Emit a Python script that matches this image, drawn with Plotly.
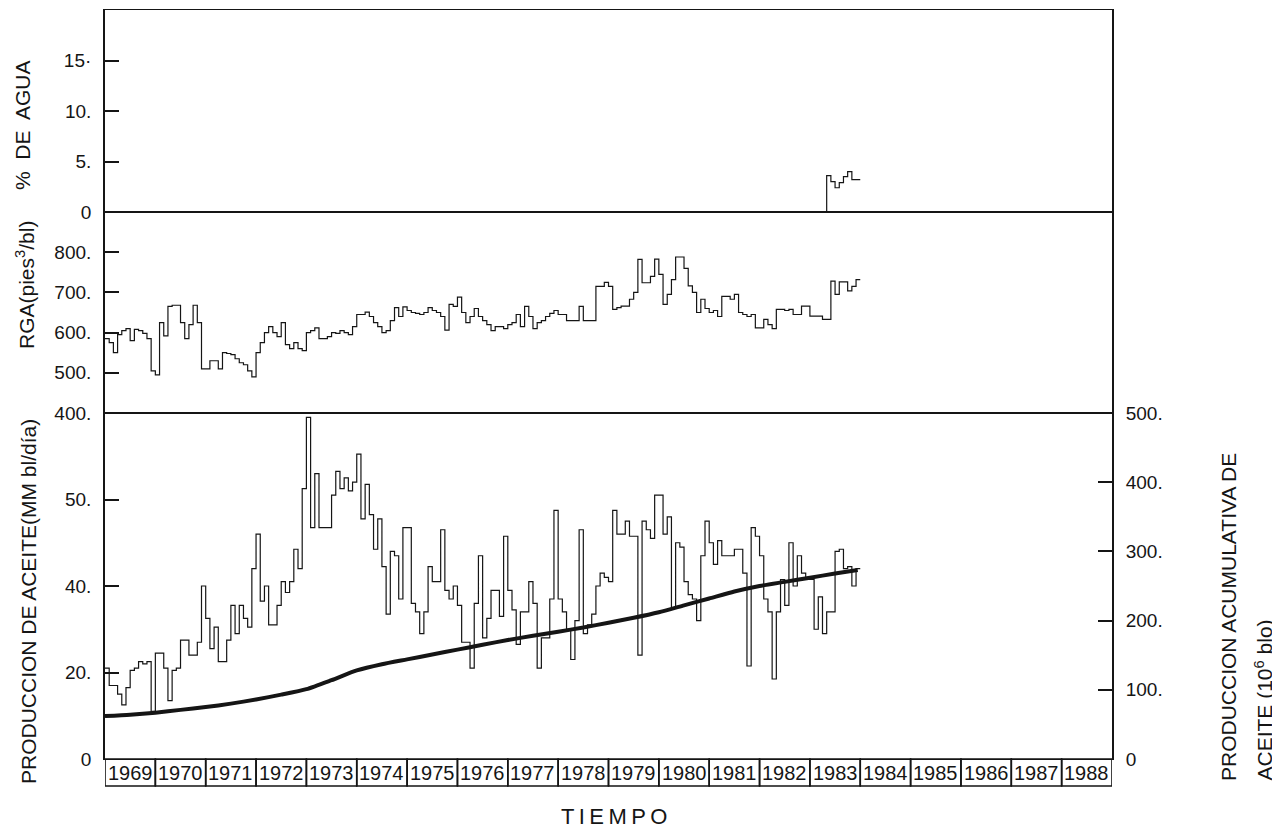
import plotly.graph_objects as go

"""
Historial de produccion: % agua, RGA, gasto de aceite y acumulada.
Datos mensuales ene-1969 .. dic-1983, leidos de la grafica.
"""

start_year = 1969
years = list(range(1969, 1989))

# % de agua, empieza en abr-1983
water_start = 1983 + 3 / 12
water_pct = [0, 3.6, 3.0, 2.4, 2.9, 3.5, 4.0, 3.2, 3.2]

# RGA (pies3/bl), mensual
rga = [
    585, 575, 550, 595, 605, 610, 580, 608, 605, 598, 585, 505,
    495, 625, 592, 665, 668, 668, 625, 585, 620, 668, 625, 510,
    510, 530, 530, 510, 550, 548, 545, 535, 525, 520, 505, 490,
    550, 575, 600, 615, 600, 590, 625, 570, 560, 575, 560, 555,
    600, 605, 612, 585, 585, 590, 600, 598, 605, 600, 595, 615,
    645, 645, 651, 640, 625, 615, 600, 605, 630, 662, 640, 664,
    655, 650, 648, 645, 650, 662, 655, 650, 640, 606, 670, 665,
    688, 650, 625, 640, 660, 640, 630, 620, 605, 615, 615, 610,
    620, 625, 645, 615, 665, 640, 610, 625, 630, 640, 648, 655,
    645, 645, 630, 630, 630, 665, 630, 630, 630, 715, 715, 725,
    715, 658, 662, 666, 666, 683, 700, 782, 724, 724, 740, 783,
    745, 670, 695, 732, 788, 788, 760, 716, 700, 650, 683, 660,
    650, 655, 640, 690, 690, 683, 695, 650, 645, 640, 645, 612,
    612, 633, 620, 610, 658, 658, 655, 658, 645, 645, 666, 666,
    641, 641, 641, 633, 633, 728, 695, 726, 726, 704, 715, 732,
]

# produccion de aceite, mensual
oil_rate = [
    21, 17, 17, 15, 12.5, 16.5, 20.5, 21, 22.5, 22, 22.5, 11,
    24.5, 24.5, 21, 13.5, 20.5, 21, 27.5, 27.5, 24, 24, 27, 40,
    32.5, 25.5, 30.5, 22.5, 22.5, 27.5, 35.5, 29, 35.5, 32.5, 30.5, 44,
    52, 36.5, 40, 31, 31, 35.5, 41, 38.5, 41, 48.5, 44, 62.5,
    79, 53.5, 66, 53.5, 53.5, 53.5, 61, 66.5, 62.5, 65, 62, 64,
    70.5, 55.5, 63.5, 56.5, 48.5, 55.5, 44.5, 33.5, 48, 47, 37, 53.5,
    53.5, 36, 34, 29, 34, 44.5, 41, 41, 53, 39, 37, 40,
    35.5, 27, 27, 21, 36, 47, 28, 32.5, 39, 39, 33, 51.5,
    39, 34.5, 26.5, 34, 34, 41, 36, 21, 28, 28, 37, 57.5,
    37, 34, 30, 23, 32, 53, 29, 31, 33.5, 40, 43, 42,
    41, 57.5, 52, 52, 55, 51.5, 51.5, 24, 55, 53, 51, 61,
    61, 52, 56, 35, 50, 49, 41, 38, 37, 32, 47, 55,
    50, 45, 50.5, 47, 47, 47, 48.5, 48.5, 43, 21.5, 53.5, 51.5,
    47, 37, 34, 18.5, 34, 41.5, 35.5, 50, 40, 47, 43, 41.5,
    41.5, 30, 37.5, 29, 34, 34, 48, 48.5, 44, 44.5, 40, 44,
]

# produccion acumulativa (10^6 bl)
cum_years = [1969.0, 1969.5, 1970.0, 1970.5, 1971.0, 1971.5, 1972.0, 1972.5,
             1973.0, 1973.5, 1974.0, 1974.5, 1975.0, 1975.5, 1976.0, 1976.5,
             1977.0, 1977.5, 1978.0, 1978.5, 1979.0, 1979.5, 1980.0, 1980.5,
             1981.0, 1981.5, 1982.0, 1982.5, 1983.0, 1983.5, 1983.95]
cum_oil = [62, 64, 67, 71, 75, 80, 86, 93, 101, 114, 128, 137, 144, 151, 158,
           165, 172, 178, 184, 190, 197, 204, 212, 222, 232, 242, 250, 256,
           262, 268, 273]

ink = "#151515"
font = "Liberation Sans"

# the page body has an 8px margin, so work in page pixels and shift
OFF = 8
W, HGT = 1280 - OFF, 829 - OFF
L, R, T, B = 105 - OFF, 1112 - OFF, 10 - OFF, 786 - OFF
H = B - T


def py(pix):
    return (B - (pix - OFF)) / H


def px(pix):
    return ((pix - OFF) - L) / (R - L)


def month_axis(first, n):
    return [first + i / 12 for i in range(n + 1)]


def stepped(vals):
    return list(vals) + [vals[-1]]


fig = go.Figure()
step = dict(color=ink, width=1.2, shape="hv")
fig.add_trace(go.Scatter(x=month_axis(water_start, len(water_pct)), y=stepped(water_pct),
                         mode="lines", line=step, xaxis="x", yaxis="y"))
fig.add_trace(go.Scatter(x=month_axis(start_year, len(rga)), y=stepped(rga),
                         mode="lines", line=step, xaxis="x2", yaxis="y2"))
fig.add_trace(go.Scatter(x=month_axis(start_year, len(oil_rate)), y=stepped(oil_rate),
                         mode="lines", line=step, xaxis="x3", yaxis="y3"))
fig.add_trace(go.Scatter(x=cum_years, y=cum_oil, mode="lines",
                         line=dict(color=ink, width=4, shape="spline", smoothing=0.6),
                         xaxis="x3", yaxis="y4"))

xbase = dict(range=[1969, 1989], showticklabels=False, ticks="", showgrid=False,
             zeroline=False, showline=True, mirror=True, linecolor=ink, linewidth=1.4,
             automargin=False)
ybase = dict(showgrid=False, zeroline=False, showline=True, mirror=True, linecolor=ink,
             linewidth=1.8, ticks="inside", ticklen=14, tickwidth=2, tickcolor=ink,
             ticklabelstandoff=8, automargin=False,
             tickfont=dict(family=font, size=19, color=ink))

top_dom = [py(212), 1]
mid_dom = [py(413), py(212)]
bot_dom = [py(759), py(413)]

fig.update_layout(
    width=W, height=HGT, showlegend=False,
    paper_bgcolor="white", plot_bgcolor="white",
    margin=dict(l=L, r=W - R, t=T, b=HGT - B, autoexpand=False),
    xaxis=dict(xbase, anchor="y"),
    xaxis2=dict(xbase, anchor="y2", matches="x"),
    xaxis3=dict(xbase, anchor="y3", matches="x"),
    yaxis=dict(ybase, domain=top_dom, range=[0, 20], tickvals=[0, 5, 10, 15],
               ticktext=["0", "5.", "10.", "15·"]),
    yaxis2=dict(ybase, domain=mid_dom, range=[400, 900], tickvals=[400, 500, 600, 700, 800],
                ticktext=["400.", "500.", "600.", "700.", "800."]),
    yaxis3=dict(ybase, domain=bot_dom, range=[0, 80], tickvals=[0, 20, 40, 60],
                ticktext=["0", "20.", "40.", "50."]),
    yaxis4=dict(ybase, overlaying="y3", side="right", anchor="x3", range=[0, 500],
                tickvals=[0, 100, 200, 300, 400, 500],
                ticktext=["0", "100.", "200.", "300.", "400.", "500."]),
)

# year boxes under the time axis
box_h = py(759)
for yr in years:
    fig.add_shape(type="rect", xref="x3", yref="paper", x0=yr, x1=yr + 1, y0=0, y1=box_h,
                  line=dict(color=ink, width=1.6), layer="above")
    fig.add_annotation(xref="x3", yref="paper", x=yr + 0.5, y=box_h / 2, text=str(yr),
                       showarrow=False, xanchor="center", yanchor="middle",
                       font=dict(family=font, size=20, color=ink))

titles = [
    ("%  DE  AGUA", px(22), py(125), "middle", 21),
    ("RGA(pies<sup>3</sup>/bl)", px(25), py(285), "middle", 21),
    ("PRODUCCION DE ACEITE(MM bl/día)", px(28), py(602), "middle", 21),
    ("PRODUCCION ACUMULATIVA DE", px(1228), py(783), "bottom", 21),
    ("ACEITE (10<sup>6</sup> blo)", px(1263), py(783), "bottom", 21),
]
for txt, x, y, ya, sz in titles:
    fig.add_annotation(xref="paper", yref="paper", x=x, y=y, text=txt, textangle=-90,
                       showarrow=False, xanchor="center", yanchor=ya,
                       font=dict(family=font, size=sz, color=ink))

fig.add_annotation(xref="paper", yref="paper", x=px(614), y=py(816),
                   text="T\u2009I\u2009E\u2009M\u2009P\u2009O", showarrow=False,
                   xanchor="center", yanchor="middle",
                   font=dict(family=font, size=22, color=ink))

fig.write_html("out.html")
